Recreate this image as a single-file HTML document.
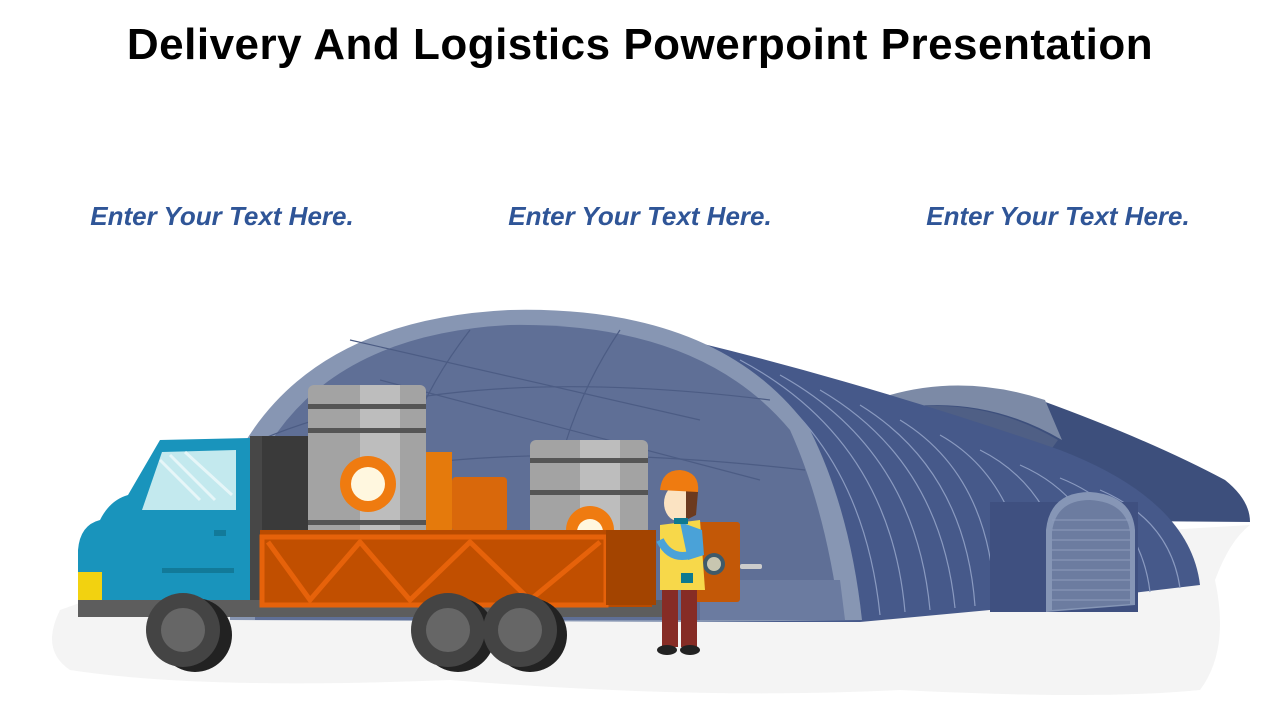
<!DOCTYPE html>
<html><head><meta charset="utf-8"><style>
body{margin:0;width:1280px;height:720px;background:#fff;position:relative;overflow:hidden;font-family:"Liberation Sans",sans-serif}
h1{position:absolute;top:20px;left:0;width:1280px;text-align:center;margin:0;font-size:44px;font-weight:bold;color:#000;letter-spacing:0.5px}
.t{position:absolute;top:201px;width:420px;text-align:center;font-size:26px;font-weight:bold;font-style:italic;color:#2f5597}
svg{position:absolute;left:0;top:0}
</style></head><body>
<h1>Delivery And Logistics Powerpoint Presentation</h1>
<div class="t" style="left:12px">Enter Your Text Here.</div>
<div class="t" style="left:430px">Enter Your Text Here.</div>
<div class="t" style="left:848px">Enter Your Text Here.</div>
<svg width="1280" height="720" viewBox="0 0 1280 720">
<path d="M60 610 Q40 650 70 670 Q200 690 450 680 Q700 700 900 690 Q1100 700 1200 690 Q1230 650 1215 580 Q1230 540 1250 525 L1000 540 L200 560 Z" fill="#f4f4f4"/>
<path d="M870 410 Q960 370 1040 400 Q1150 440 1225 480 Q1250 500 1250 522 L1000 520 Z" fill="#3d4f7c"/>
<path d="M880 398 Q960 372 1045 400 L1062 440 Q980 392 888 410 Z" fill="#7c8aa6"/>
<path d="M888 410 Q980 394 1058 440 L1000 520 L888 520 Z" fill="#4f5f85"/>
<path d="M560 312 Q800 360 1060 450 Q1190 500 1200 585 L990 610 L860 622 L700 622 Z" fill="#46598a"/>
<g stroke="#8a9ac0" stroke-width="1.2" fill="none">
<path d="M700 345 Q860 420 880 615"/><path d="M740 360 Q890 440 905 612"/><path d="M780 375 Q915 450 930 610"/><path d="M820 390 Q940 460 955 608"/><path d="M860 405 Q965 470 975 606"/><path d="M900 420 Q990 475 995 604"/><path d="M940 435 Q1020 480 1030 600"/><path d="M980 450 Q1060 490 1070 598"/><path d="M1020 465 Q1100 500 1110 595"/><path d="M1060 478 Q1140 510 1150 592"/><path d="M1100 490 Q1170 520 1180 588"/>
</g>
<rect x="990" y="502" width="148" height="110" fill="#3f5080"/>
<path d="M1046 612 L1046 530 Q1050 492 1090 492 Q1132 495 1135 530 L1135 605 Z" fill="#8696b6"/>
<path d="M1052 610 L1052 532 Q1056 500 1090 500 Q1126 502 1130 532 L1130 604 Z" fill="#6c7ca0"/>
<g stroke="#8e9cbc" stroke-width="1">
<line x1="1052" y1="520" x2="1130" y2="520"/><line x1="1052" y1="530" x2="1130" y2="530"/><line x1="1052" y1="540" x2="1130" y2="540"/><line x1="1052" y1="550" x2="1130" y2="550"/><line x1="1052" y1="560" x2="1130" y2="560"/><line x1="1052" y1="570" x2="1130" y2="570"/><line x1="1052" y1="580" x2="1130" y2="580"/><line x1="1052" y1="590" x2="1130" y2="590"/><line x1="1052" y1="600" x2="1130" y2="600"/>
</g>
<path d="M230 470 Q300 320 510 310 Q720 305 810 430 Q850 510 862 620 L700 622 L230 620 Z" fill="#8796b3"/>
<path d="M255 470 Q320 335 510 325 Q700 322 790 430 Q826 510 840 620 L255 620 Z" fill="#5f6f96"/>
<g stroke="#4c5c84" stroke-width="1.2" fill="none">
<path d="M260 440 Q450 360 770 400"/><path d="M260 500 Q450 430 805 470"/><path d="M350 340 L700 420"/><path d="M380 380 L760 480"/><path d="M470 330 Q400 420 390 520"/><path d="M620 330 Q560 420 550 520"/>
</g>
<path d="M700 580 L840 580 L845 620 L700 620 Z" fill="#6b7ba0"/>
<rect x="308" y="385" width="118" height="152" rx="6" fill="#a3a3a3"/>
<rect x="360" y="385" width="40" height="152" fill="#bdbdbd"/>
<rect x="308" y="404" width="118" height="5" fill="#555"/><rect x="308" y="428" width="118" height="5" fill="#555"/><rect x="308" y="520" width="118" height="5" fill="#555"/>
<circle cx="368" cy="484" r="28" fill="#ef7b10"/><circle cx="368" cy="484" r="17" fill="#fff7df"/>
<rect x="426" y="452" width="26" height="80" fill="#e57a0c"/>
<rect x="452" y="477" width="55" height="55" rx="4" fill="#d9680b"/>
<rect x="530" y="440" width="118" height="95" rx="6" fill="#a3a3a3"/>
<rect x="580" y="440" width="40" height="95" fill="#bdbdbd"/>
<rect x="530" y="458" width="118" height="5" fill="#555"/><rect x="530" y="490" width="118" height="5" fill="#555"/>
<circle cx="590" cy="530" r="24" fill="#ef7b10"/><circle cx="590" cy="532" r="13" fill="#fff7df"/>
<rect x="690" y="522" width="50" height="80" rx="3" fill="#c35807"/>
<circle cx="714" cy="564" r="11" fill="#3e5a6a"/><circle cx="714" cy="564" r="7" fill="#c8c6b0"/>
<rect x="740" y="564" width="22" height="5" rx="2" fill="#ccc"/>
<rect x="250" y="436" width="58" height="170" fill="#474747"/>
<rect x="262" y="436" width="46" height="170" fill="#3a3a3a"/>
<path d="M100 520 Q110 500 128 495 L160 440 L250 438 L250 600 L78 600 L78 550 Q80 525 100 520 Z" fill="#1994bc"/>
<path d="M142 510 L162 452 L236 450 L236 510 Z" fill="#c3e9ee"/>
<path d="M160 460 L200 500 M170 455 L215 500 M185 452 L232 495" stroke="#e6f6f8" stroke-width="3"/>
<rect x="162" y="568" width="72" height="5" fill="#127a99"/>
<rect x="214" y="530" width="12" height="6" fill="#127a99"/>
<rect x="78" y="572" width="24" height="28" fill="#f2d210"/>
<rect x="78" y="600" width="600" height="17" fill="#5d5d5d"/>
<rect x="260" y="530" width="392" height="77" fill="#b94b00"/>
<rect x="262" y="537" width="344" height="68" fill="#c14f00" stroke="#e6620a" stroke-width="5"/>
<path d="M268 542 L310 600 L360 542 L410 600 L470 542 L530 600 L600 542" fill="none" stroke="#e6620a" stroke-width="5"/>
<rect x="606" y="530" width="50" height="75" fill="#a34400"/>
<circle cx="195" cy="635" r="37" fill="#222"/><circle cx="183" cy="630" r="37" fill="#444"/><circle cx="183" cy="630" r="22" fill="#666"/>
<circle cx="458" cy="635" r="37" fill="#222"/><circle cx="448" cy="630" r="37" fill="#444"/><circle cx="448" cy="630" r="22" fill="#666"/>
<circle cx="530" cy="635" r="37" fill="#222"/><circle cx="520" cy="630" r="37" fill="#444"/><circle cx="520" cy="630" r="22" fill="#666"/>
<rect x="662" y="585" width="16" height="62" fill="#862c25"/><rect x="681" y="585" width="16" height="62" fill="#862c25"/>
<ellipse cx="667" cy="650" rx="10" ry="5" fill="#222"/><ellipse cx="690" cy="650" rx="10" ry="5" fill="#222"/>
<path d="M660 525 L700 520 L705 590 L660 590 Z" fill="#f7d84a"/>
<path d="M680 522 L702 530 L704 555 L688 560 Z" fill="#4aa2d8"/>
<path d="M660 540 Q670 560 690 555" stroke="#4aa2d8" stroke-width="8" fill="none"/>
<rect x="681" y="573" width="12" height="10" fill="#0e7990"/>
<ellipse cx="678" cy="503" rx="14" ry="18" fill="#fbe3c2"/>
<path d="M686 490 L698 492 L696 515 L686 520 Z" fill="#6c3a1e"/>
<path d="M660 490 Q662 470 680 470 Q700 472 698 492 Z" fill="#ef7b10"/>
<rect x="674" y="518" width="14" height="6" fill="#0e7990"/>
</svg>
</body></html>
